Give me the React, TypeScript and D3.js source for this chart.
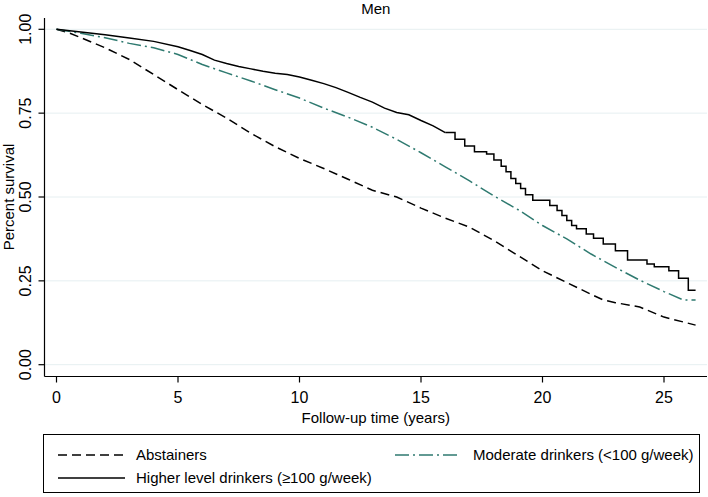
import React from "react";
import * as d3 from "d3";

const xTicks = [0, 5, 10, 15, 20, 25];
const yTicks = [0, 0.25, 0.5, 0.75, 1.0];
const yTickLabels = ["0.00", "0.25", "0.50", "0.75", "1.00"];

const higherT = [0, 1, 2, 3, 4, 5, 5.5, 6, 6.5, 7, 7.5, 8, 8.5, 9, 9.5, 10, 10.5, 11, 11.5, 12, 12.5, 13, 13.5, 14, 14.5, 15, 15.5, 16, 16.4, 16.8, 17.2, 17.7, 18, 18.3, 18.5, 18.7, 18.9, 19.1, 19.3, 19.6, 20.3, 20.6, 20.8, 21, 21.2, 21.4, 21.8, 22.1, 22.5, 23, 23.5, 24.3, 24.6, 25.2, 25.6, 26.0, 26.3];
const higherS = [1.0, 0.992, 0.984, 0.974, 0.964, 0.948, 0.937, 0.925, 0.908, 0.898, 0.889, 0.882, 0.875, 0.869, 0.865, 0.858, 0.848, 0.838, 0.826, 0.812, 0.797, 0.783, 0.765, 0.752, 0.745, 0.728, 0.712, 0.692, 0.672, 0.652, 0.635, 0.628, 0.61, 0.592, 0.575, 0.555, 0.54, 0.525, 0.507, 0.49, 0.475, 0.46, 0.445, 0.43, 0.415, 0.405, 0.39, 0.377, 0.36, 0.34, 0.312, 0.3, 0.292, 0.28, 0.258, 0.222, 0.222];

const moderateT = [0, 1, 2, 3, 4, 5, 6, 7, 8, 9, 10, 11, 12, 13, 14, 15, 16, 17, 18, 19, 20, 21, 22, 23, 24, 25, 25.8, 26.3];
const moderateS = [1.0, 0.988, 0.975, 0.958, 0.945, 0.925, 0.895, 0.87, 0.846, 0.82, 0.795, 0.765, 0.738, 0.708, 0.672, 0.632, 0.59, 0.548, 0.503, 0.462, 0.415, 0.375, 0.33, 0.29, 0.252, 0.218, 0.193, 0.193];

const abstT = [0, 0.5, 1, 2, 3, 4, 5, 6, 7, 8, 9, 10, 11, 12, 13, 14, 15, 16, 17, 18, 19, 20, 21, 22, 22.5, 23, 24, 25, 26.3];
const abstS = [1.0, 0.99, 0.975, 0.945, 0.91, 0.865, 0.82, 0.776, 0.735, 0.69, 0.65, 0.615, 0.585, 0.553, 0.52, 0.5, 0.467, 0.437, 0.41, 0.37, 0.325, 0.28, 0.245, 0.21, 0.193, 0.185, 0.172, 0.142, 0.118];

const FONT = "'Liberation Sans', Arial, sans-serif";
const TEAL = "#2f7a70";

export default function App() {
  const W = 708, H = 497;
  const x = d3.scaleLinear().domain([0, 25]).range([56.5, 664]);
  const y = d3.scaleLinear().domain([0, 1]).range([364.7, 29.3]);
  const left = 44.5, right = 707, bottom = 376.5, top = 18;

  const toPts = (t: number[], s: number[]) => t.map((v, i) => [v, s[i]] as [number, number]);
  const lineStep = d3.line<[number, number]>().x(d => x(d[0])).y(d => y(d[1])).curve(d3.curveStepAfter);
  const lineLin = d3.line<[number, number]>().x(d => x(d[0])).y(d => y(d[1]));

  const higherPts = toPts(higherT, higherS);
  const split = 16;
  const higherEarly = higherPts.filter(p => p[0] <= split);
  const higherLate = higherPts.filter(p => p[0] >= split);

  const dashAbst = "9 5";
  const dashMod = "14 4 2 4";

  return (
    <svg width={W} height={H} style={{ position: "absolute", left: 0, top: 0, background: "#fff" }} fontFamily={FONT}>
      <rect x={0} y={0} width={W} height={H} fill="#fff" />
      <text x={(left + right) / 2} y={14} textAnchor="middle" fontSize={15}>Men</text>
      {yTicks.map(t => (
        <line key={"g" + t} x1={left} x2={right} y1={y(t)} y2={y(t)} stroke="#e6eff1" strokeWidth={1} />
      ))}
      <line x1={left} x2={left} y1={top} y2={bottom} stroke="#000" strokeWidth={1.2} />
      <line x1={left} x2={right} y1={bottom} y2={bottom} stroke="#000" strokeWidth={1.2} />
      {yTicks.map((t, i) => (
        <g key={"y" + t}>
          <line x1={left - 6} x2={left} y1={y(t)} y2={y(t)} stroke="#000" strokeWidth={1.2} />
          <text transform={`translate(${31},${y(t)}) rotate(-90)`} textAnchor="middle" fontSize={16}>{yTickLabels[i]}</text>
        </g>
      ))}
      {xTicks.map(t => (
        <g key={"x" + t}>
          <line x1={x(t)} x2={x(t)} y1={bottom} y2={bottom + 6} stroke="#000" strokeWidth={1.2} />
          <text x={x(t)} y={403} textAnchor="middle" fontSize={16}>{t}</text>
        </g>
      ))}
      <text transform={`translate(14,197) rotate(-90)`} textAnchor="middle" fontSize={15}>Percent survival</text>
      <text x={(left + right) / 2} y={423} textAnchor="middle" fontSize={15}>Follow-up time (years)</text>

      <path d={lineLin(toPts(abstT, abstS)) || ""} fill="none" stroke="#000" strokeWidth={1.5} strokeDasharray={dashAbst} />
      <path d={lineLin(toPts(moderateT, moderateS)) || ""} fill="none" stroke={TEAL} strokeWidth={1.5} strokeDasharray={dashMod} />
      <path d={lineLin(higherEarly) || ""} fill="none" stroke="#000" strokeWidth={1.5} />
      <path d={lineStep(higherLate) || ""} fill="none" stroke="#000" strokeWidth={1.5} />

      <rect x={43.5} y={434.5} width={656} height={58} fill="none" stroke="#000" strokeWidth={1} />
      <line x1={58} x2={125} y1={455} y2={455} stroke="#000" strokeWidth={1.5} strokeDasharray={dashAbst} />
      <text x={136} y={460} fontSize={15}>Abstainers</text>
      <line x1={395} x2={458} y1={455} y2={455} stroke={TEAL} strokeWidth={1.5} strokeDasharray={dashMod} />
      <text x={473} y={460} fontSize={15}>Moderate drinkers (&lt;100 g/week)</text>
      <line x1={58} x2={125} y1={478} y2={478} stroke="#000" strokeWidth={1.5} />
      <text x={136} y={483} fontSize={15}>Higher level drinkers (≥100 g/week)</text>
    </svg>
  );
}
